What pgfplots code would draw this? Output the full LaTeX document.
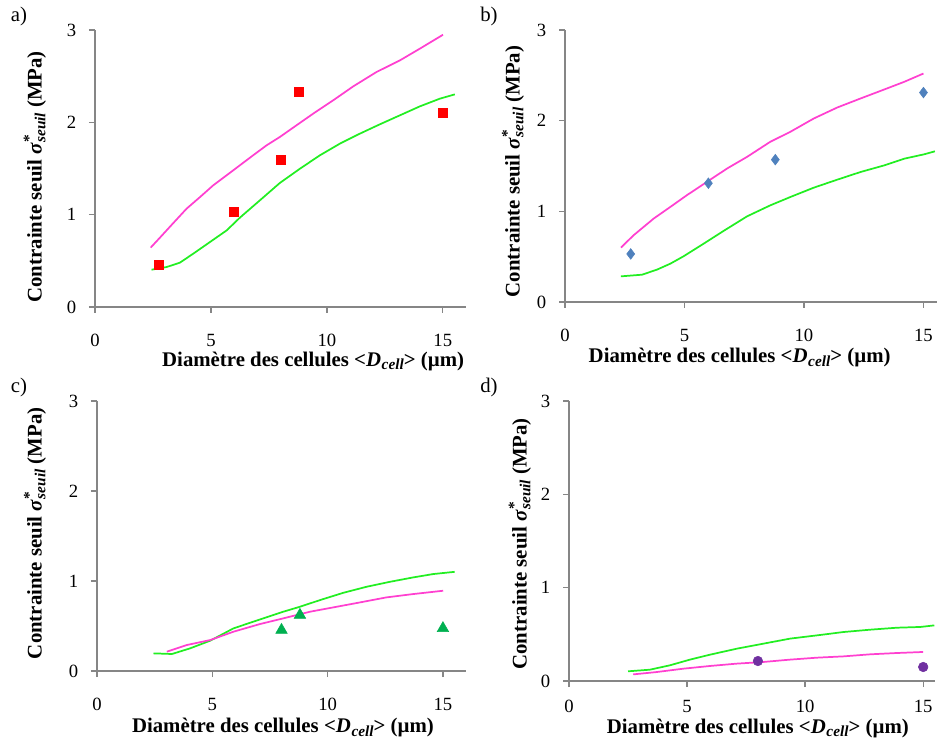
\documentclass[border=0pt]{standalone}
\usepackage{fontspec}
\setmainfont{Liberation Serif}
\usepackage{pgfplots}
\pgfplotsset{compat=1.18}
\definecolor{axgray}{HTML}{868686}
\definecolor{mag}{HTML}{FF40D0}
\definecolor{grn}{HTML}{22EE22}
\definecolor{bluem}{HTML}{4F81BD}
\definecolor{grnm}{HTML}{00B050}
\definecolor{purm}{HTML}{7030A0}
\newcommand{\fs}{\fontsize{14}{16}\selectfont}
\newcommand{\fl}{\fontsize{15.6}{18}\selectfont}
\newcommand{\fsub}{\fontsize{11.5}{12}\selectfont}
\newcommand{\ylab}{\textbf{Contrainte seuil {\itshape σ}\kern0.5pt\makebox[0pt][l]{\raisebox{0.8ex}{\fsub *}}\raisebox{-0.4ex}{\fsub\itshape seuil} (MPa)}}
\newcommand{\xlab}{\textbf{Diamètre des cellules <{\itshape D}\kern0.5pt\raisebox{-0.35ex}{\fsub\itshape cell}> (µm)}}
\pgfplotsset{
  panel/.style={
    scale only axis,
    anchor=south west,
    axis x line*=bottom,
    axis y line*=left,
    axis line style={axgray, line width=1.2pt},
    xmin=0, ymin=0, ymax=3,
    xtick={0,5,10,15}, ytick={0,1,2,3},
    tick align=outside,
    major tick length=4.5pt,
    tick style={axgray, line width=1pt},
    tick label style={font=\fs},
    /pgf/number format/assume math mode=true,
    xticklabel style={inner ysep=0pt, yshift=-15.9pt},
    yticklabel style={xshift=-6pt},
    label style={font=\fl, inner sep=0pt},
    clip=false,
  },
  magline/.style={mag, line width=1.3pt, no marks},
  grnline/.style={grn, line width=1.3pt, no marks},
}
\begin{document}
\begin{tikzpicture}
\useasboundingbox (0,0) rectangle (703.5pt,555pt);
\node[anchor=north west, font=\fl, inner sep=0pt] at (8pt,550pt) {a)};
\node[anchor=north west, font=\fl, inner sep=0pt] at (360pt,550pt) {b)};
\node[anchor=north west, font=\fl, inner sep=0pt] at (8pt,272pt) {c)};
\node[anchor=north west, font=\fl, inner sep=0pt] at (360pt,272pt) {d)};
% ---------- a ----------
\begin{axis}[panel, at={(71.25pt,324.75pt)}, width=278.25pt, height=207.75pt, xmax=16,
  xlabel={\xlab}, ylabel={\ylab},
  xlabel style={at={(axis description cs:0.588,-0.195)}, anchor=center},
  ylabel style={at={(axis description cs:-0.162,0.47)}, anchor=center}]
\addplot[magline] coordinates {(2.40,0.643)(2.80,0.751)(3.38,0.910)(3.95,1.065)(4.53,1.191)(5.10,1.318)(5.96,1.480)(6.82,1.643)(7.40,1.751)(7.97,1.841)(8.69,1.968)(9.41,2.094)(10.27,2.238)(11.14,2.390)(12.14,2.545)(13.15,2.671)(14.01,2.798)(15.01,2.949)};
\addplot[grnline] coordinates {(2.44,0.404)(3.09,0.433)(3.66,0.480)(4.24,0.578)(4.96,0.704)(5.68,0.830)(6.25,0.968)(7.11,1.155)(7.97,1.343)(8.84,1.498)(9.70,1.643)(10.56,1.769)(11.42,1.877)(12.28,1.978)(13.15,2.076)(14.01,2.173)(14.87,2.256)(15.52,2.303)};
\addplot[only marks, mark=square*, mark size=3.4pt, mark options={draw=red, fill=red}] coordinates {(2.75,0.46)(6.0,1.03)(8.0,1.59)(8.8,2.33)(15.0,2.10)};
\end{axis}
% ---------- b ----------
\begin{axis}[panel, at={(423.75pt,328.5pt)}, width=278.7pt, height=204pt, xmax=15.55,
  xlabel={\xlab}, ylabel={\ylab},
  xlabel style={at={(axis description cs:0.47,-0.205)}, anchor=center},
  ylabel style={at={(axis description cs:-0.14,0.48)}, anchor=center}]
\addplot[magline] coordinates {(2.34,0.60)(2.87,0.736)(3.71,0.920)(4.41,1.049)(5.10,1.178)(5.94,1.325)(6.78,1.472)(7.62,1.601)(8.59,1.767)(9.43,1.877)(10.41,2.024)(11.40,2.146)(12.37,2.245)(13.36,2.344)(14.20,2.429)(15.0,2.520)};
\addplot[grnline] coordinates {(2.34,0.283)(3.22,0.301)(3.85,0.357)(4.41,0.423)(4.96,0.504)(5.80,0.643)(6.63,0.783)(7.62,0.945)(8.59,1.066)(9.43,1.158)(10.41,1.261)(11.40,1.350)(12.37,1.434)(13.36,1.507)(14.20,1.581)(15.03,1.629)(15.48,1.662)};
\addplot[only marks, mark=diamond*, mark size=4pt, mark options={draw=bluem, fill=bluem}] coordinates {(2.75,0.53)(6.0,1.31)(8.8,1.57)(15.0,2.31)};
\end{axis}
% ---------- c ----------
\begin{axis}[panel, at={(72.75pt,51.75pt)}, width=276.75pt, height=202.5pt, xmax=16,
  xlabel={\xlab}, ylabel={\ylab},
  xlabel style={at={(axis description cs:0.504,-0.21)}, anchor=center},
  ylabel style={at={(axis description cs:-0.168,0.51)}, anchor=center}]
\addplot[grnline] coordinates {(2.45,0.196)(3.25,0.189)(4.04,0.252)(4.91,0.337)(5.92,0.474)(7.07,0.573)(8.08,0.659)(8.80,0.714)(9.67,0.788)(10.68,0.869)(11.69,0.936)(12.70,0.991)(13.71,1.040)(14.57,1.077)(15.51,1.102)};
\addplot[magline] coordinates {(3.03,0.215)(3.90,0.289)(4.91,0.344)(5.92,0.437)(7.07,0.522)(8.08,0.585)(9.24,0.659)(10.25,0.707)(11.40,0.762)(12.55,0.818)(13.71,0.855)(15.01,0.892)};
\addplot[only marks, mark=triangle*, mark size=5pt, mark options={draw=grnm, fill=grnm}] coordinates {(8.0,0.455)(8.8,0.622)(15.0,0.474)};
\end{axis}
% ---------- d ----------
\begin{axis}[panel, at={(426.75pt,44.25pt)}, width=274.5pt, height=210pt, xmax=15.5,
  xticklabel style={yshift=6pt},
  xlabel={\xlab}, ylabel={\ylab},
  xlabel style={at={(axis description cs:0.516,-0.168)}, anchor=center},
  ylabel style={at={(axis description cs:-0.134,0.49)}, anchor=center}]
\addplot[grnline] coordinates {(2.50,0.104)(3.42,0.121)(4.27,0.168)(5.12,0.229)(5.97,0.282)(7.10,0.346)(8.23,0.400)(9.36,0.454)(10.50,0.489)(11.63,0.525)(12.76,0.550)(13.89,0.571)(14.88,0.579)(15.47,0.596)};
\addplot[magline] coordinates {(2.72,0.071)(3.71,0.096)(4.84,0.132)(5.97,0.161)(7.10,0.186)(8.23,0.204)(9.36,0.229)(10.50,0.250)(11.63,0.264)(12.76,0.286)(13.89,0.300)(15.0,0.311)};
\addplot[only marks, mark=*, mark size=3.6pt, mark options={draw=purm, fill=purm}] coordinates {(8.0,0.214)(15.0,0.150)};
\end{axis}
\end{tikzpicture}
\end{document}
